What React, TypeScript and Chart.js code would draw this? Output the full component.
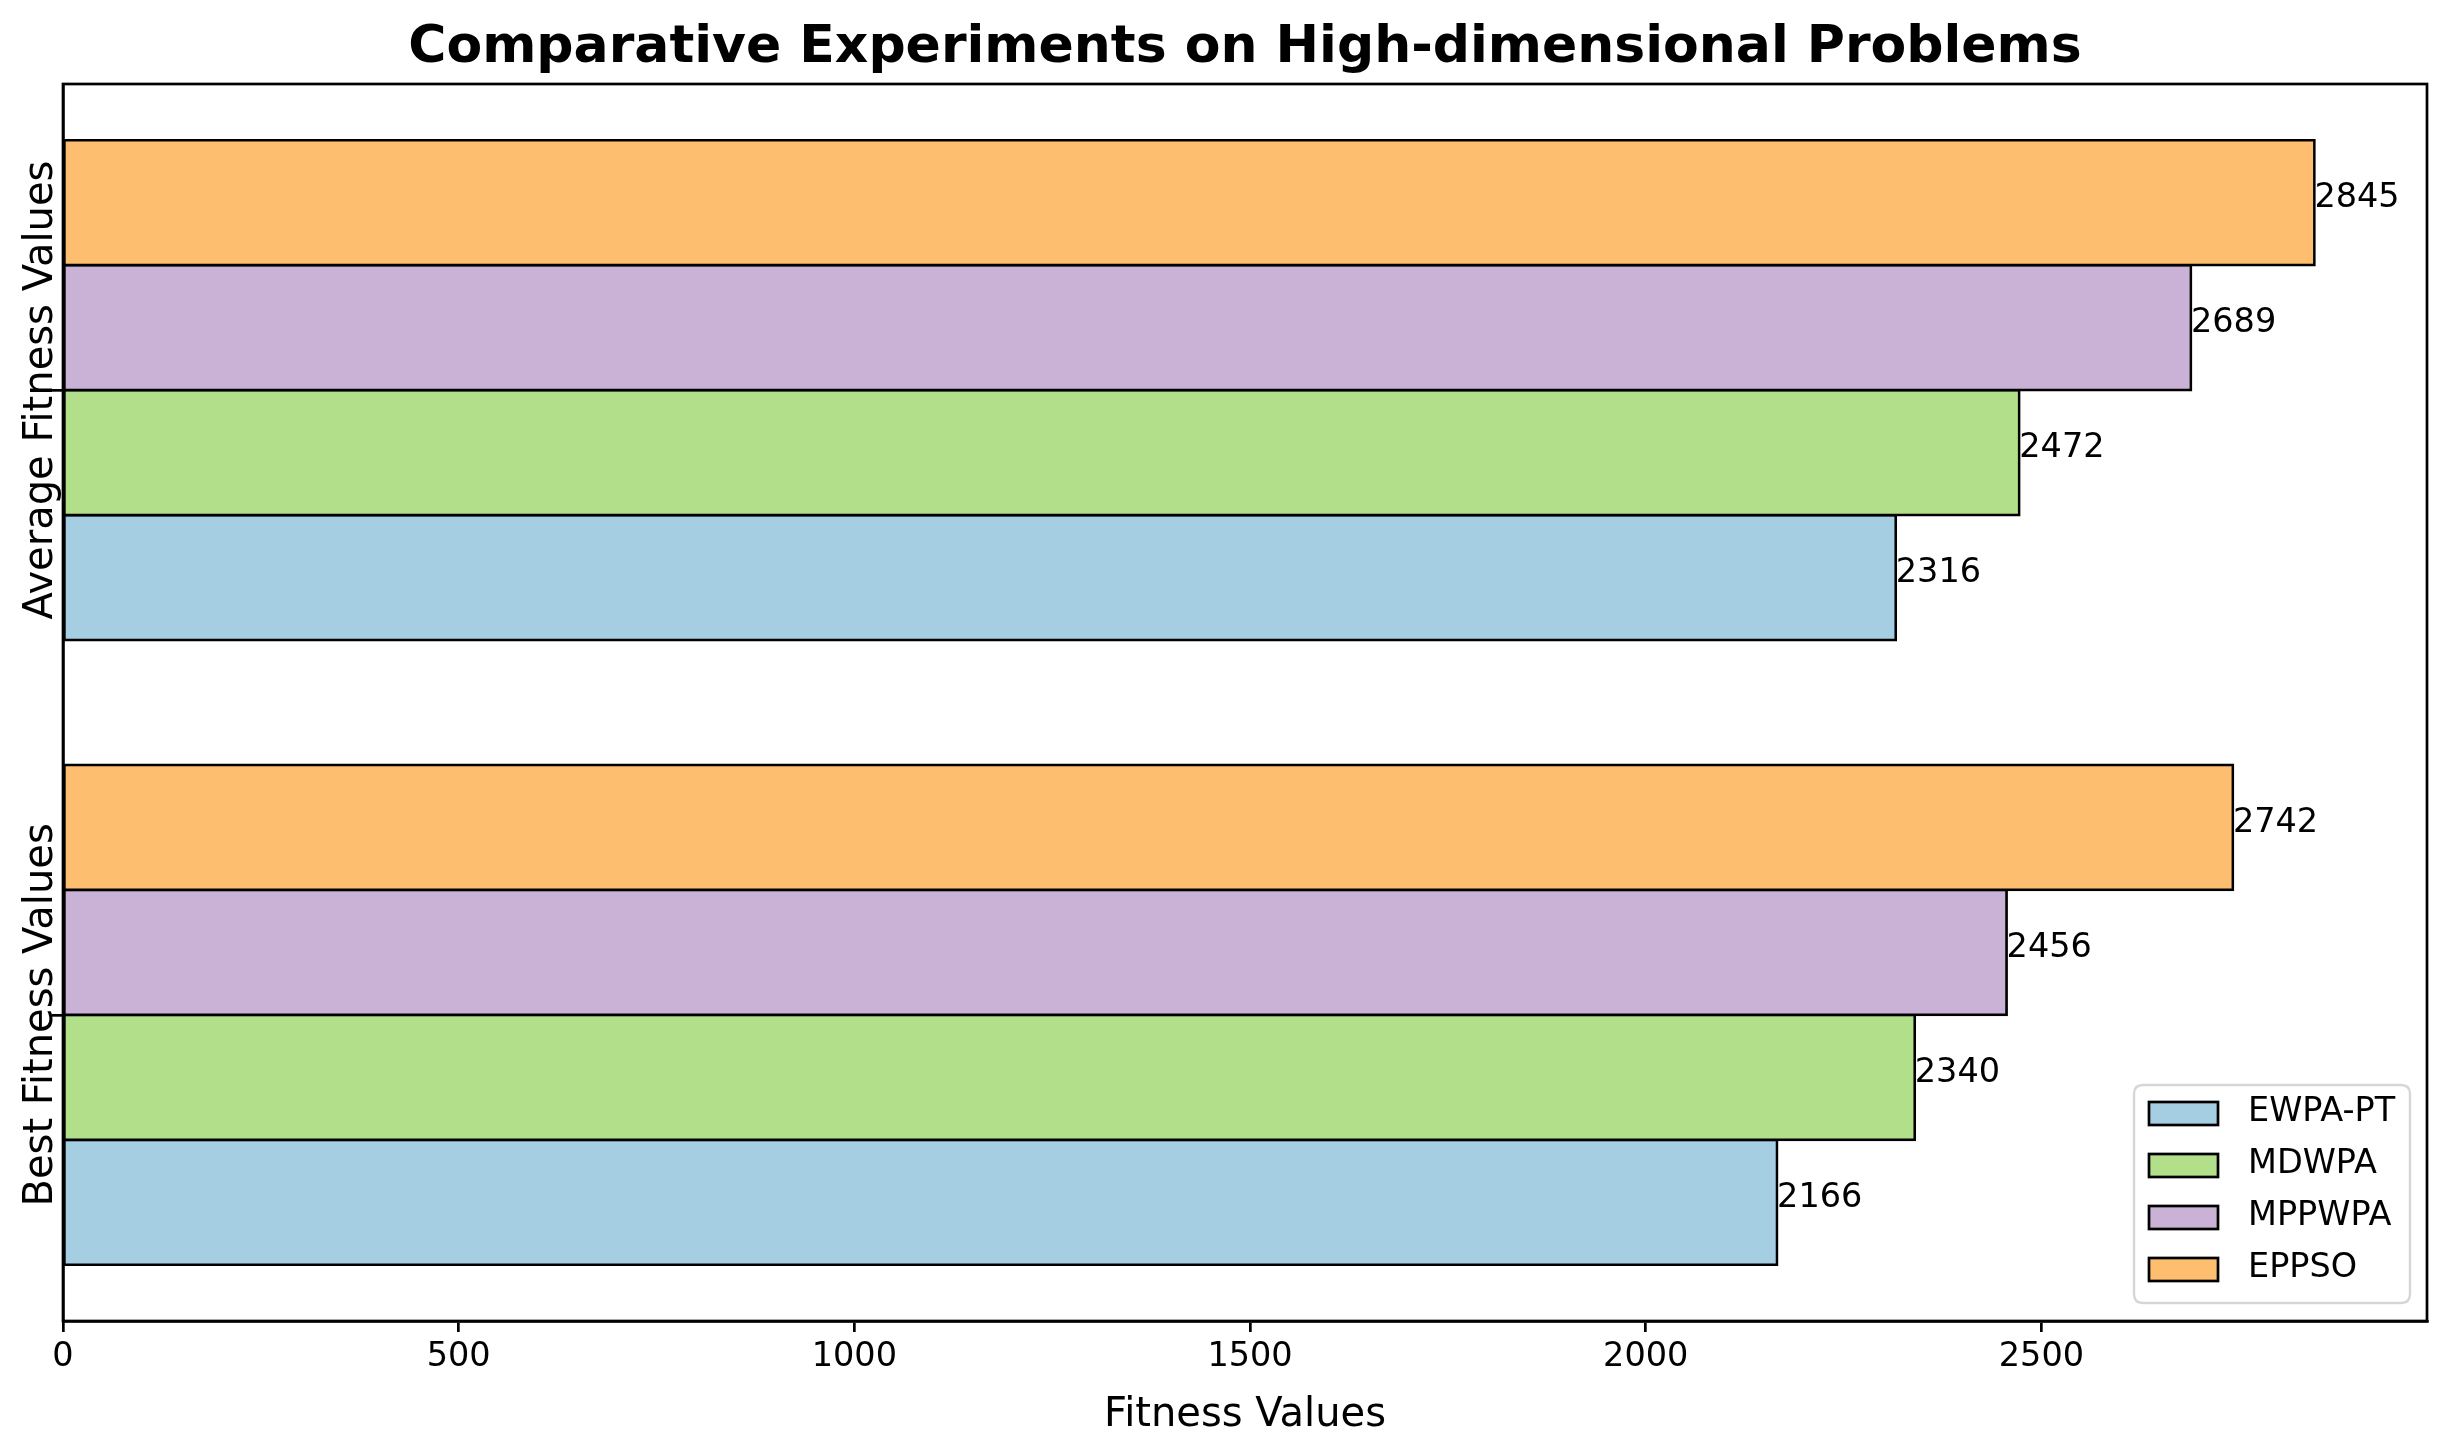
import React, { useEffect, useRef } from 'react';
import { Chart, registerables } from 'chart.js';

Chart.register(...registerables);

const categories = ['Average Fitness Values', 'Best Fitness Values'];
const categoryPositions = [1, 0];
const seriesNames = ['EWPA-PT', 'MDWPA', 'MPPWPA', 'EPPSO'];
const seriesColors = ['#a6cee3', '#b2df8a', '#cab2d6', '#fdbf6f'];
const ewpaPt = [2316, 2166];
const mdwpa = [2472, 2340];
const mppwpa = [2689, 2456];
const eppso = [2845, 2742];
const xTicks = [0, 500, 1000, 1500, 2000, 2500];
const chartTitle = 'Comparative Experiments on High-dimensional Problems';
const xTitle = 'Fitness Values';

const FONT = '"DejaVu Sans", "Liberation Sans", sans-serif';
const LW = 2.7;
const SMALL = 33.5;
const LARGE = 40;

const seriesValues = [ewpaPt, mdwpa, mppwpa, eppso];

const decorPlugin = {
  id: 'decor',
  afterDatasetsDraw(chart: any) {
    const ctx = chart.ctx as CanvasRenderingContext2D;
    const a = chart.chartArea;
    ctx.save();

    // value labels
    ctx.font = `${SMALL}px ${FONT}`;
    ctx.fillStyle = '#000';
    ctx.textAlign = 'left';
    ctx.textBaseline = 'middle';
    chart.data.datasets.forEach((ds: any, i: number) => {
      const meta = chart.getDatasetMeta(i);
      meta.data.forEach((bar: any, j: number) => {
        const v = ds.data[j].x;
        const p = bar.getProps(['x', 'y'], true);
        ctx.fillText(String(v), p.x, p.y - 4);
      });
    });

    // frame (spines)
    ctx.strokeStyle = '#000';
    ctx.lineWidth = LW;
    ctx.strokeRect(a.left, a.top, a.right - a.left, a.bottom - a.top);

    // y category labels (rotated)
    const ys = chart.scales.y;
    ctx.fillStyle = '#000';
    ctx.font = `${LARGE}px ${FONT}`;
    ctx.textAlign = 'center';
    ctx.textBaseline = 'alphabetic';
    categories.forEach((c, i) => {
      const py = ys.getPixelForValue(categoryPositions[i]);
      ctx.save();
      ctx.translate(a.left - 11, py);
      ctx.rotate(-Math.PI / 2);
      ctx.fillText(c, 0, 0);
      ctx.restore();
    });

    // title
    ctx.font = `bold 52px ${FONT}`;
    ctx.textAlign = 'center';
    ctx.textBaseline = 'alphabetic';
    ctx.fillText(chartTitle, (a.left + a.right) / 2, 62);

    // legend
    const lw = 276;
    const lh = 218;
    const lx = a.right - 17 - lw;
    const ly = a.bottom - 18 - lh;
    const r = 9;
    ctx.beginPath();
    ctx.moveTo(lx + r, ly);
    ctx.lineTo(lx + lw - r, ly);
    ctx.quadraticCurveTo(lx + lw, ly, lx + lw, ly + r);
    ctx.lineTo(lx + lw, ly + lh - r);
    ctx.quadraticCurveTo(lx + lw, ly + lh, lx + lw - r, ly + lh);
    ctx.lineTo(lx + r, ly + lh);
    ctx.quadraticCurveTo(lx, ly + lh, lx, ly + lh - r);
    ctx.lineTo(lx, ly + r);
    ctx.quadraticCurveTo(lx, ly, lx + r, ly);
    ctx.closePath();
    ctx.fillStyle = 'rgba(255,255,255,0.8)';
    ctx.fill();
    ctx.strokeStyle = '#d6d6d6';
    ctx.lineWidth = 2.4;
    ctx.stroke();

    ctx.font = `${SMALL}px ${FONT}`;
    ctx.textAlign = 'left';
    ctx.textBaseline = 'middle';
    seriesNames.forEach((name, i) => {
      const py = ly + 17 + i * 52;
      ctx.fillStyle = seriesColors[i];
      ctx.fillRect(lx + 15, py, 69, 23);
      ctx.strokeStyle = '#000';
      ctx.lineWidth = LW;
      ctx.strokeRect(lx + 15, py, 69, 23);
      ctx.fillStyle = '#000';
      ctx.fillText(name, lx + 114, py + 11.5 - 1);
    });

    ctx.restore();
  },
};

export default function App() {
  const ref = useRef<HTMLCanvasElement | null>(null);

  useEffect(() => {
    if (!ref.current) return;
    Chart.defaults.font.family = FONT;
    const order = [3, 2, 1, 0]; // top of each group is EPPSO
    const datasets = order.map((si) => ({
      label: seriesNames[si],
      data: seriesValues[si].map((v, ci) => ({ x: v, y: categoryPositions[ci] })),
      backgroundColor: seriesColors[si],
      borderColor: '#000',
      borderWidth: LW,
      borderSkipped: false,
      inflateAmount: LW / 2,
      categoryPercentage: 0.8,
      barPercentage: 1.0,
    }));
    const allValues = seriesValues.flat();
    const chart = new Chart(ref.current, {
      type: 'bar',
      data: { datasets } as any,
      options: {
        indexAxis: 'y',
        animation: false,
        responsive: false,
        devicePixelRatio: 1,
        layout: { padding: { top: 84, right: 17, bottom: 0, left: 0 } },
        plugins: {
          legend: { display: false },
          tooltip: { enabled: false },
          title: { display: false },
        },
        scales: {
          x: {
            type: 'linear',
            min: 0,
            max: Math.max(...allValues) * 1.05,
            offset: false,
            afterBuildTicks: (s: any) => {
              s.ticks = xTicks.map((v) => ({ value: v }));
            },
            afterFit: (s: any) => {
              s.height = 128;
            },
            grid: {
              offset: false,
              drawOnChartArea: false,
              drawTicks: true,
              tickLength: 11,
              color: '#000',
              lineWidth: LW,
            },
            border: { display: true, color: '#000', width: LW },
            ticks: {
              color: '#000',
              font: { size: SMALL, family: FONT },
              padding: 5,
              maxRotation: 0,
              autoSkip: false,
              callback: (v: any) => String(v),
            },
            title: {
              display: true,
              text: xTitle,
              color: '#000',
              font: { size: LARGE, family: FONT },
              padding: { top: 0, bottom: 9 },
            },
          },
          y: {
            type: 'linear',
            min: -0.49,
            max: 1.49,
            offset: false,
            afterBuildTicks: (s: any) => {
              s.ticks = categoryPositions.map((v) => ({ value: v }));
            },
            afterFit: (s: any) => {
              s.width = 63;
            },
            grid: {
              offset: false,
              drawOnChartArea: false,
              drawTicks: true,
              tickLength: 11,
              color: '#000',
              lineWidth: LW,
            },
            border: { display: true, color: '#000', width: LW },
            ticks: { display: false },
          },
        },
      } as any,
      plugins: [decorPlugin],
    });
    return () => chart.destroy();
  }, []);

  return (
    <div style={{ position: 'absolute', left: 0, top: 0, width: 2444, height: 1449, background: '#fff' }}>
      <canvas ref={ref} width={2444} height={1449} style={{ width: 2444, height: 1449 }} />
    </div>
  );
}
